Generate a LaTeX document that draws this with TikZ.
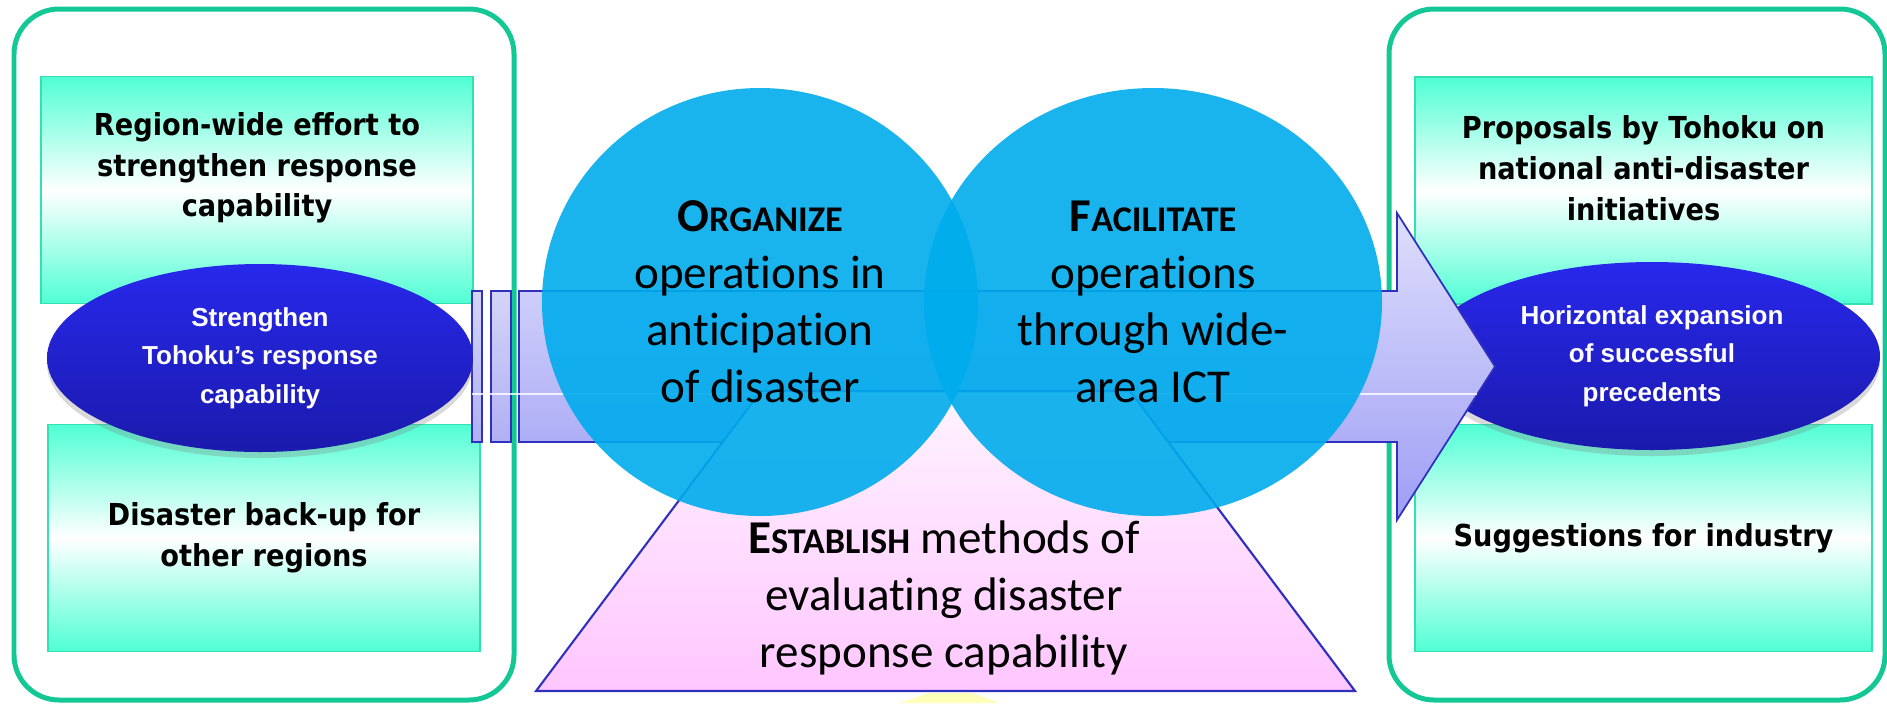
\documentclass[tikz,border=0pt]{standalone}
\usepackage{fontspec}
\usepackage{tikz}
\usetikzlibrary{positioning, shapes.geometric, shadows}
\newfontfamily\panelfont[FakeStretch=0.9]{DejaVu Sans}
\newfontfamily\ovalfont{Liberation Sans}
\newfontfamily\bubblefont[Ligatures=CommonOff]{Carlito}
\definecolor{framegreen}{RGB}{20,200,150}
\definecolor{panelaqua}{RGB}{80,255,212}
\definecolor{paneledge}{RGB}{50,225,175}
\definecolor{ovaltop}{RGB}{40,40,236}
\definecolor{ovalbottom}{RGB}{26,26,172}
\definecolor{arrowtop}{RGB}{222,222,252}
\definecolor{arrowbottom}{RGB}{158,158,245}
\definecolor{striptop}{RGB}{212,212,248}
\definecolor{stripbottom}{RGB}{176,176,244}
\definecolor{arrowedge}{RGB}{48,48,190}
\definecolor{bubbleblue}{RGB}{0,172,236}
\definecolor{pinktop}{RGB}{255,244,255}
\definecolor{pinkbottom}{RGB}{255,198,255}
\definecolor{paleyellow}{RGB}{255,255,185}
\newcommand{\capsword}[2]{{\bfseries #1{\fontsize{10.3}{16.2}\selectfont #2}}}

\begin{document}
\begin{tikzpicture}[
        frame/.style={draw=framegreen, line width=0.5mm, rounded corners=4.5mm},
        panel/.style={rectangle, draw=paneledge, line width=0.5pt, top color=panelaqua, bottom color=panelaqua, middle color=white, minimum width=4.32cm, minimum height=2.27cm, inner sep=0pt, align=center, font=\panelfont\bfseries\fontsize{8.6}{11.6}\selectfont},
        paneltext/.style={align=center, font=\panelfont\bfseries\fontsize{8.6}{11.6}\selectfont},
        oval/.style={ellipse, top color=ovaltop, bottom color=ovalbottom, minimum height=1.88cm, inner sep=0pt, align=center, text=white, font=\ovalfont\bfseries\fontsize{7.4}{11}\selectfont, drop shadow={opacity=0.3, shadow xshift=0mm, shadow yshift=-0.6mm}},
        strip/.style={draw=arrowedge, line width=0.5pt, top color=striptop, bottom color=stripbottom},
        bubbletext/.style={align=center, font=\bubblefont\fontsize{13.4}{16.2}\selectfont},
        bubble/.style={ellipse, bubbletext, fill=bubbleblue, fill opacity=0.9, text opacity=1, minimum height=4.28cm, inner sep=0pt},
    ]
        \useasboundingbox (0,0) rectangle (18.87,7.03);

        % Frames
        \draw[frame] (0.14,0.03) rectangle (5.14,6.94);
        \draw[frame] (13.89,0.03) rectangle (18.85,6.94);

        % Left panels
        \node[panel] (effortbox) at (2.57,5.13) {};
        \node[paneltext] (effort) at (2.57,5.35) {Region-wide effort to\\strengthen response\\capability};
        \node[panel] (backup) at (2.64,1.65) {Disaster back-up for\\other regions};

        % Right panels
        \node[panel, minimum width=4.57cm] (proposalsbox) at (16.435,5.125) {};
        \node[paneltext] (proposals) at (16.435,5.35) {Proposals by Tohoku on\\national anti-disaster\\initiatives};
        \node[panel, minimum width=4.57cm] (industry) at (16.435,1.65) {Suggestions for industry};

        % Right oval
        \node[oval, minimum width=4.56cm] (expansion) at (16.52,3.47) {Horizontal expansion\\of successful\\precedents};

        % Big arrow
        \shadedraw[strip] (4.72,2.61) rectangle (4.82,4.12);
        \shadedraw[strip] (4.91,2.61) rectangle (5.11,4.12);
        \shadedraw[draw=arrowedge, line width=0.5pt, top color=arrowtop, bottom color=arrowbottom]
            (5.19,2.61) -- (13.97,2.61) -- (13.97,1.83) -- (14.95,3.365) -- (13.97,4.90) -- (13.97,4.12) -- (5.19,4.12) -- cycle;
        \draw[white, line width=0.3pt, opacity=0.8] (4.72,3.09) -- (14.77,3.09);

        % Left oval
        \node[oval, minimum width=4.26cm] (strengthen) at (2.60,3.45) {Strengthen\\Tohoku’s response\\capability};

        % Trapezoid
        \fill[paleyellow] (9.00,0) -- (9.28,0.10) -- (9.72,0.10) -- (10.00,0) -- cycle;
        \shadedraw[draw=arrowedge, line width=0.6pt, top color=pinktop, bottom color=pinkbottom]
            (5.36,0.12) -- (13.55,0.12) -- (11.30,3.12) -- (7.61,3.12) -- cycle;
        \node[bubbletext] (establish) at (9.44,1.05) {\capsword{E}{STABLISH} methods of\\evaluating disaster\\response capability};

        % Circles
        \node[bubble, minimum width=4.36cm] (organize) at (7.60,4.01) {\capsword{O}{RGANIZE}\\operations in\\anticipation\\of disaster};
        \node[bubble, minimum width=4.58cm] (facilitate) at (11.53,4.01) {\capsword{F}{ACILITATE}\\operations\\through wide-\\area ICT};
    \end{tikzpicture}
\end{document}
